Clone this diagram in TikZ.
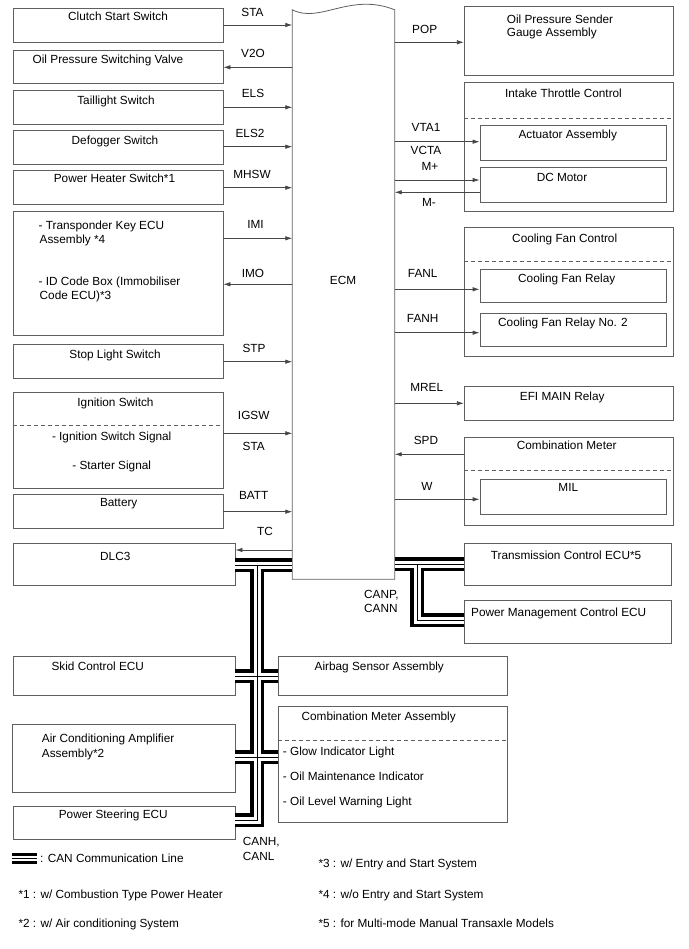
\documentclass[tikz,border=0pt]{standalone}
\usepackage{fontspec}
\setmainfont{Liberation Sans}
\usetikzlibrary{fit,arrows.meta}
\definecolor{boxgray}{RGB}{95,95,95}
\definecolor{wiregray}{RGB}{70,70,70}
\newcommand\mybox[5]{\node[box, fit={(#2,#3) (#4,#5)}] (#1) {};}
\begin{document}
\begin{tikzpicture}[x=1pt,y=-1pt,
  every node/.style={font=\fontsize{11.8}{13}\selectfont},
  box/.style={draw=boxgray, line width=0.8pt, inner sep=0pt},
  txt/.style={inner sep=0pt, text height=8.5pt, text depth=0pt, anchor=center},
  ltxt/.style={txt, anchor=west},
  sig/.style={draw=wiregray, line width=0.8pt},
  arr/.style={sig, -{Latex[length=7pt,width=4.5pt]}},
  sepline/.style={draw=boxgray, line width=0.8pt, dash pattern=on 4pt off 3pt},
  canA/.style={draw=black, line width=14pt},
  canB/.style={draw=white, line width=7pt},
  canC/.style={draw=black, line width=1pt},
  legA/.style={draw=black, line width=11pt},
  legB/.style={draw=white, line width=5pt},
  legC/.style={draw=black, line width=1pt}]
\useasboundingbox (0,0) rectangle (688,949);

% ---------- boxes ----------
\mybox{cs}{13}{8.3}{223}{42.3}
\mybox{opsv}{13}{50}{223}{83.3}
\mybox{tl}{13}{90}{223}{124}
\mybox{df}{13}{130}{223}{164}
\mybox{ph}{13}{170.7}{223}{204}
\mybox{tk}{13}{211.7}{223}{335}
\mybox{sl}{13}{344}{223}{378.3}
\mybox{ig}{13}{392.3}{223}{488.3}
\mybox{bat}{13}{494}{223}{528.3}
\mybox{dlc}{13}{543.3}{235}{585.7}
\mybox{skid}{13}{656}{235}{695}
\mybox{aca}{12.3}{724}{235}{792.7}
\mybox{ps}{13}{806}{235}{839.3}
\mybox{ops}{464.3}{6.7}{673.3}{75}
\mybox{itc}{464.3}{82.3}{673.3}{211.7}
\mybox{act}{480}{125}{666}{160}
\mybox{dcm}{480}{167.7}{666}{202.7}
\mybox{cfc}{464.3}{227.3}{673.3}{356.7}
\mybox{cfr}{480}{269.3}{666}{302.7}
\mybox{cfrb}{480}{313.3}{666}{346.7}
\mybox{efi}{464.3}{386.7}{673.3}{420.7}
\mybox{cm}{464.3}{437.3}{673.3}{525}
\mybox{mil}{480}{479}{666}{514.3}
\mybox{tcm}{464.3}{543.3}{671}{585.7}
\mybox{pmc}{464.3}{600}{671}{643.3}
\mybox{air}{278.3}{656.7}{507.3}{695}
\mybox{cma}{278.3}{706}{507.3}{822.7}

% ECM with wavy top
\node[fit={(292.5,10) (394.5,579)}, inner sep=0pt] (ecm) {};
\draw[draw=boxgray, line width=0.8pt] (ecm.north west) .. controls (320,24) and (350,-8) .. (ecm.north east) -- (ecm.south east) -- (ecm.south west) -- cycle;
\node[txt] (ecmt) at (343,280) {ECM};

% dashed separators
\draw[sepline] (ig.west |- 0,425.7) -- (ig.east |- 0,425.7);
\draw[sepline] (itc.west |- 0,118.3) -- (itc.east |- 0,118.3);
\draw[sepline] (cfc.west |- 0,261.7) -- (cfc.east |- 0,261.7);
\draw[sepline] (cm.west |- 0,470.7) -- (cm.east |- 0,470.7);
\draw[sepline] (cma.west |- 0,740) -- (cma.east |- 0,740);

% ---------- box texts ----------
\node[txt] (t1) at (118,16.7) {Clutch Start Switch};
\node[txt] (t2) at (108,59.5) {Oil Pressure Switching Valve};
\node[txt] (t3) at (116,100) {Taillight Switch};
\node[txt] (t4) at (115,140) {Defogger Switch};
\node[txt] (t5) at (114.5,178) {Power Heater Switch*1};
\node[ltxt] (t6a) at (38.5,225) {- Transponder Key ECU};
\node[ltxt] (t6b) at (39.5,239) {Assembly *4};
\node[ltxt] (t6c) at (38.5,281.5) {- ID Code Box (Immobiliser};
\node[ltxt] (t6d) at (39.5,295.5) {Code ECU)*3};
\node[txt] (t7) at (115,354) {Stop Light Switch};
\node[txt] (t8a) at (115.5,402.5) {Ignition Switch};
\node[txt] (t8b) at (111.7,436.7) {- Ignition Switch Signal};
\node[txt] (t8c) at (111.7,465) {- Starter Signal};
\node[txt] (t9) at (118.7,502) {Battery};
\node[txt] (t10) at (115.3,555.8) {DLC3};
\node[txt] (t11) at (97.8,666) {Skid Control ECU};
\node[ltxt] (t12a) at (41.7,738.3) {Air Conditioning Amplifier};
\node[ltxt] (t12b) at (41.7,752.8) {Assembly*2};
\node[txt] (t13) at (113.3,814.3) {Power Steering ECU};

\node[ltxt] (r1a) at (506.7,19) {Oil Pressure Sender};
\node[ltxt] (r1b) at (506.7,32) {Gauge Assembly};
\node[txt] (r2) at (563.5,92.8) {Intake Throttle Control};
\node[txt] (r3) at (567.8,134.7) {Actuator Assembly};
\node[txt] (r4) at (562,177.2) {DC Motor};
\node[txt] (r5) at (564.7,238) {Cooling Fan Control};
\node[txt] (r6) at (566.7,278.3) {Cooling Fan Relay};
\node[txt] (r7) at (563,322.3) {Cooling Fan Relay No. 2};
\node[txt] (r8) at (562.2,396.7) {EFI MAIN Relay};
\node[txt] (r9) at (566.7,445.3) {Combination Meter};
\node[txt] (r10) at (568.3,487) {MIL};
\node[txt] (r11) at (566,555.3) {Transmission Control ECU*5};
\node[txt] (r12) at (558.7,612) {Power Management Control ECU};

\node[txt] (b1) at (379.3,666.7) {Airbag Sensor Assembly};
\node[txt] (b2) at (378.7,716) {Combination Meter Assembly};
\node[ltxt] (b3) at (282.7,751.7) {- Glow Indicator Light};
\node[ltxt] (b4) at (282.7,776.7) {- Oil Maintenance Indicator};
\node[ltxt] (b5) at (282.7,801.7) {- Oil Level Warning Light};

% ---------- signal labels ----------
\node[txt] (l1) at (252.5,12.7) {STA};
\node[txt] (l2) at (253,53) {V2O};
\node[txt] (l3) at (253,93) {ELS};
\node[txt] (l4) at (250,133) {ELS2};
\node[txt] (l5) at (252,174) {MHSW};
\node[txt] (l6) at (255.5,224.5) {IMI};
\node[txt] (l7) at (253,273) {IMO};
\node[txt] (l8) at (254,348) {STP};
\node[txt] (l9) at (253.7,415) {IGSW};
\node[txt] (l10) at (253.7,446) {STA};
\node[txt] (l11) at (253.7,495) {BATT};
\node[txt] (l12) at (265,531) {TC};
\node[txt] (m1) at (424.7,29.7) {POP};
\node[txt] (m2) at (426,127.5) {VTA1};
\node[txt] (m3) at (426,149.8) {VCTA};
\node[txt] (m4) at (430,166.2) {M+};
\node[txt] (m5) at (429,202) {M-};
\node[txt] (m6) at (422.7,273.7) {FANL};
\node[txt] (m7) at (422.7,317.8) {FANH};
\node[txt] (m8) at (426.7,387) {MREL};
\node[txt] (m9) at (426,440.3) {SPD};
\node[txt] (m10) at (427,486.2) {W};
\node[ltxt] (c1) at (364,594.5) {CANP,};
\node[ltxt] (c2) at (364,608.7) {CANN};
\node[ltxt] (c3) at (242.7,841) {CANH,};
\node[ltxt] (c4) at (242.7,856) {CANL};

% ---------- signal connectors ----------
\draw[arr] (cs.east |- 0,25) -- (ecm.west |- 0,25);
\draw[arr] (ecm.west |- 0,67.3) -- (opsv.east |- 0,67.3);
\draw[arr] (tl.east |- 0,107.3) -- (ecm.west |- 0,107.3);
\draw[arr] (df.east |- 0,146.7) -- (ecm.west |- 0,146.7);
\draw[arr] (ph.east |- 0,187.7) -- (ecm.west |- 0,187.7);
\draw[arr] (tk.east |- 0,238.3) -- (ecm.west |- 0,238.3);
\draw[arr] (ecm.west |- 0,284.3) -- (tk.east |- 0,284.3);
\draw[arr] (sl.east |- 0,361.7) -- (ecm.west |- 0,361.7);
\draw[arr] (ig.east |- 0,433.3) -- (ecm.west |- 0,433.3);
\draw[arr] (bat.east |- 0,511.7) -- (ecm.west |- 0,511.7);
\draw[arr] (ecm.west |- 0,550) -- (dlc.east |- 0,550);
\draw[arr] (ecm.east |- 0,42.3) -- (ops.west |- 0,42.3);
\draw[arr] (ecm.east |- 0,141.7) -- (act.west |- 0,141.7);
\draw[arr] (ecm.east |- 0,180) -- (dcm.west |- 0,180);
\draw[arr] (dcm.west |- 0,192.3) -- (ecm.east |- 0,192.3);
\draw[arr] (ecm.east |- 0,289.3) -- (cfr.west |- 0,289.3);
\draw[arr] (ecm.east |- 0,332.7) -- (cfrb.west |- 0,332.7);
\draw[arr] (ecm.east |- 0,403.3) -- (efi.west |- 0,403.3);
\draw[arr] (cm.west |- 0,454.3) -- (ecm.east |- 0,454.3);
\draw[arr] (ecm.east |- 0,499.3) -- (mil.west |- 0,499.3);

% ---------- CAN bus ----------
\coordinate (jl) at (257,565);
\coordinate (jlb) at (257,820);
\coordinate (jr) at (417,564);
\coordinate (jrb) at (417,620);
\foreach \lay in {canA,canB,canC}{
  \draw[\lay] (ecm.west |- jl) -- (dlc.east |- jl);
  \draw[\lay] (jl) -- (jlb) -- (ps.east |- jlb);
  \draw[\lay] (skid.east |- 0,676) -- (air.west |- 0,676);
  \draw[\lay] (aca.east |- 0,757) -- (cma.west |- 0,757);
  \draw[\lay] (ecm.east |- jr) -- (tcm.west |- jr);
  \draw[\lay] (jr) -- (jrb) -- (pmc.west |- jrb);
}

% ---------- legend ----------
\coordinate (lg1) at (12,858);
\coordinate (lg2) at (37,858);
\draw[legA] (lg1) -- (lg2);
\draw[legB] (lg1) -- (lg2);
\draw[legC] (lg1) -- (lg2);
\node[ltxt] (g0) at (40,858.7) {: CAN Communication Line};
\node[ltxt] (g1) at (18.3,894.3) {*1 : w/ Combustion Type Power Heater};
\node[ltxt] (g2) at (18.3,923.3) {*2 : w/ Air conditioning System};
\node[ltxt] (g3) at (318.3,863) {*3 : w/ Entry and Start System};
\node[ltxt] (g4) at (318.3,894.3) {*4 : w/o Entry and Start System};
\node[ltxt] (g5) at (318.3,923.3) {*5 : for Multi-mode Manual Transaxle Models};
\end{tikzpicture}
\end{document}
